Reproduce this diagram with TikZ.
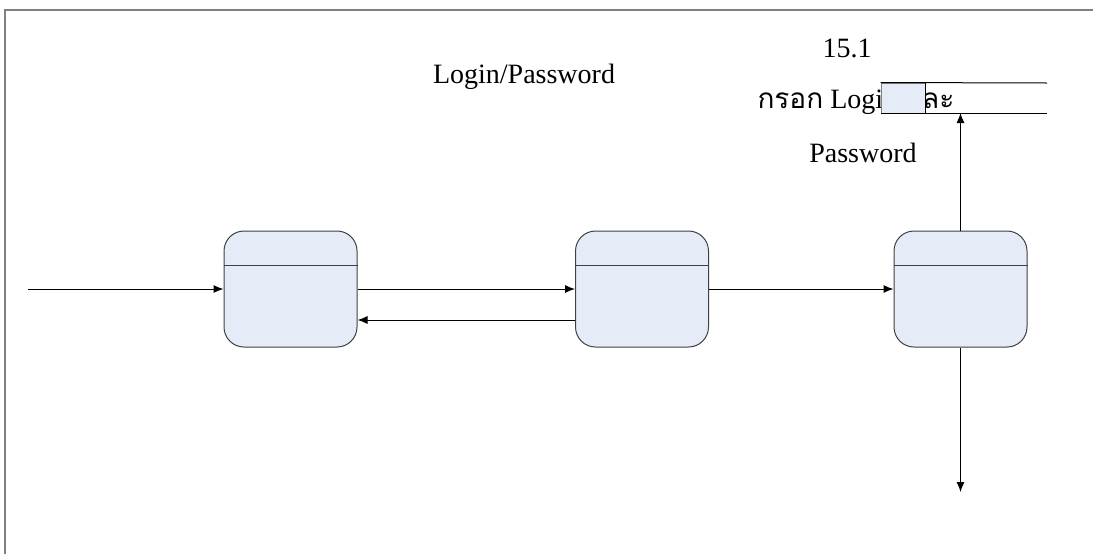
\documentclass[tikz,border=0pt]{standalone}
\usepackage{fontspec}
\setmainfont{Liberation Serif}
\newfontfamily\thaifont[Script=Thai]{Loma}
\usetikzlibrary{calc,arrows.meta}

\definecolor{procfill}{RGB}{230,236,247}
\definecolor{procline}{RGB}{64,64,64}
\definecolor{framegray}{RGB}{128,128,128}

\tikzset{every picture/.style={line width=0.75pt}}
\tikzset{
  procbox/.style={draw=procline, fill=procfill, rounded corners=15pt, minimum width=99.75pt, minimum height=87pt, inner sep=0pt},
  flow/.style={draw=black, -{Latex[length=7.5pt,width=6pt]}},
  lbl/.style={font=\fontsize{21}{25}\selectfont, inner sep=0pt}
}

\begin{document}
\begin{tikzpicture}[x=0.75pt,y=0.75pt,yscale=-1,xscale=1]
\useasboundingbox (0,0) rectangle (1094,554);

%Frame
\draw [draw=framegray, line width=1.5pt] (5,554) -- (5,10) -- (1093,10) ;

%Shape: Process boxes
\node [procbox] (login) at (290.5,289) {};
\node [procbox] (check) at (642,289) {};
\node [procbox] (menu) at (960.5,289) {};
\foreach \p in {login,check,menu}
  \draw [procline] ($(\p.north west)+(0,35)$) -- ($(\p.north east)+(0,35)$) ;

% Text Node
\node [lbl] (lp) at (524,77) {Login/Password};
% Text Node
\node [lbl] (num) at (847,48) {15.1};
% Text Node
\node [lbl, anchor=base west] (fill) at (757,108) {{\thaifont กรอก} Login {\thaifont และ}};
% Text Node
\node [lbl] (pw) at (863,153) {Password};

%Data store
\node [draw=framegray, fill=procfill, minimum width=33pt, minimum height=22.5pt, inner sep=0pt] (store) at (903,98) {};
\coordinate (storeend) at (1047,83);
\draw (store.north west) -- (storeend) ;
\draw (store.south west) -- (storeend |- store.south) ;
\draw (store.north east) -- (store.south east) ;

%Straight Lines
\coordinate (start) at (28,289);
\coordinate (upend) at (960.5,113);
\coordinate (downend) at (960.5,492);
\draw [flow] (start) -- (login.west) ;
\draw [flow] (login.east) -- (check.west) ;
\draw [flow] ($(check.west)+(0,31)$) -- ($(login.east)+(0,31)$) ;
\draw [flow] (check.east) -- (menu.west) ;
\draw [flow] (menu.north) -- (upend) ;
\draw [flow] (menu.south) -- (downend) ;

\end{tikzpicture}
\end{document}
